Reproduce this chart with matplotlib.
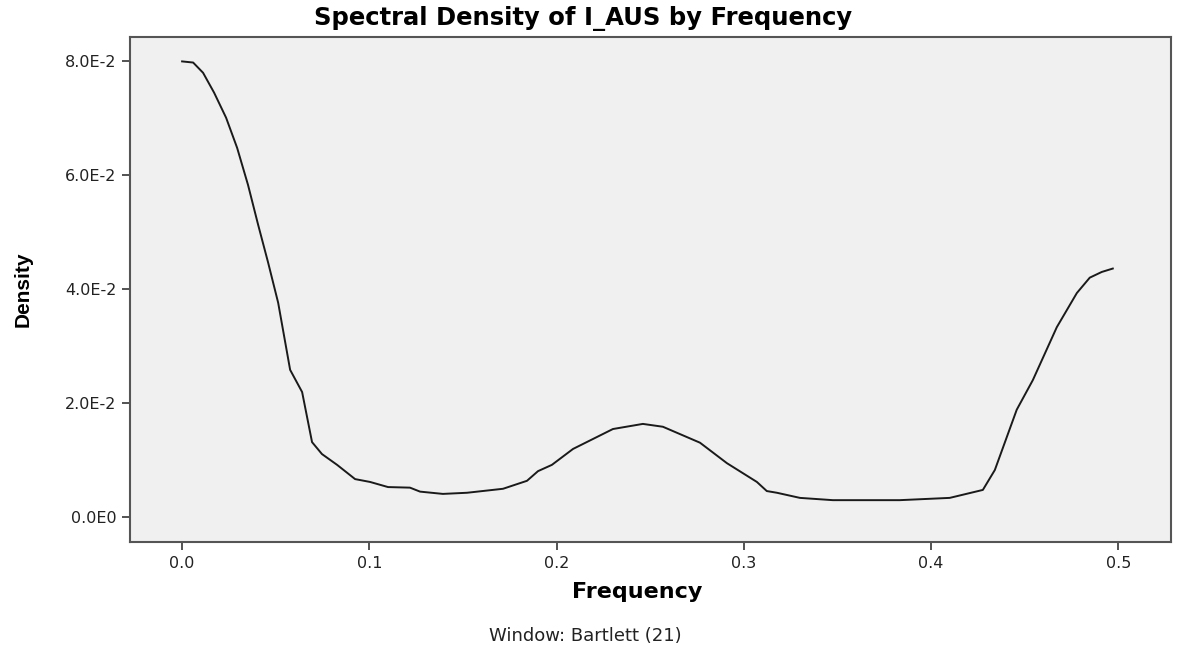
# Spectral density plot (SPSS style)
import matplotlib
matplotlib.use('Agg')
import matplotlib.pyplot as plt
import numpy as np

# ----------------------------------------------------------------------------------------------------------------------
# DATA
# ----------------------------------------------------------------------------------------------------------------------

frequency = [0.0000, 0.0059, 0.0112, 0.0171, 0.0235, 0.0294, 0.0352, 0.0406, 0.0459, 0.0513,
             0.0577, 0.0641, 0.0694, 0.0747, 0.0828, 0.0924, 0.1004, 0.1100, 0.1217, 0.1271,
             0.1393, 0.1522, 0.1714, 0.1842, 0.1901, 0.1975, 0.2088, 0.2301, 0.2461, 0.2568,
             0.2766, 0.2910, 0.3070, 0.3123, 0.3177, 0.3300, 0.3476, 0.3833, 0.4100, 0.4277,
             0.4341, 0.4458, 0.4544, 0.4672, 0.4779, 0.4848, 0.4912, 0.4971]
density = [0.0800, 0.0798, 0.0780, 0.0745, 0.0701, 0.0648, 0.0583, 0.0513, 0.0447, 0.0376,
           0.0258, 0.0219, 0.0131, 0.0110, 0.0091, 0.0066, 0.0061, 0.0052, 0.0051, 0.0044,
           0.0040, 0.0042, 0.0049, 0.0063, 0.0080, 0.0091, 0.0119, 0.0154, 0.0163, 0.0158,
           0.0130, 0.0094, 0.0061, 0.0045, 0.0042, 0.0033, 0.0029, 0.0029, 0.0033, 0.0047,
           0.0082, 0.0188, 0.0240, 0.0333, 0.0393, 0.0420, 0.0430, 0.0436]

xticks = [0.0, 0.1, 0.2, 0.3, 0.4, 0.5]
yticks = [0.0, 0.02, 0.04, 0.06, 0.08]
ytick_labels = ['0.0E0', '2.0E-2', '4.0E-2', '6.0E-2', '8.0E-2']

# ----------------------------------------------------------------------------------------------------------------------
# PLOT
# ----------------------------------------------------------------------------------------------------------------------

f = plt.figure(figsize=(11.77, 6.48), dpi=100)
ax = f.add_axes([0.1105, 0.1636, 0.8841, 0.7794])
ax.plot(frequency, density, color='#1a1a1a', linewidth=1.4)
ax.set_facecolor('#f0f0f0')
ax.set_xlim([-0.0278, 0.528])
ax.set_ylim([-0.00445, 0.0843])
ax.set_xticks(xticks)
ax.set_xticklabels(['%.1f' % t for t in xticks], family='DejaVu Sans', fontsize=11.5, color='#222222')
ax.set_yticks(yticks)
ax.set_yticklabels(ytick_labels, family='DejaVu Sans', fontsize=11.5, color='#222222')
ax.tick_params(length=6, width=1.3, color='#444444', pad=4)
for sp in ax.spines.values():
    sp.set_color('#555555')
    sp.set_linewidth(1.5)
# ------------------------------------------------------------------------------------------------------------------
f.text(0.4955, 0.972, 'Spectral Density of I_AUS by Frequency', ha='center', va='center',
       family='DejaVu Sans', fontweight='bold', fontsize=17.5)
f.text(0.541, 0.086, 'Frequency', ha='center', va='center', family='DejaVu Sans', fontweight='bold', fontsize=16)
f.text(0.497, 0.019, 'Window: Bartlett (21)', ha='center', va='center', family='DejaVu Sans', fontsize=13,
       color='#222222')
f.text(0.0195, 0.554, 'Density', ha='center', va='center', rotation=90,
       family='Liberation Sans', fontweight='bold', fontsize=15)
# ------------------------------------------------------------------------------------------------------------------
plt.savefig('out.png', dpi=100)
